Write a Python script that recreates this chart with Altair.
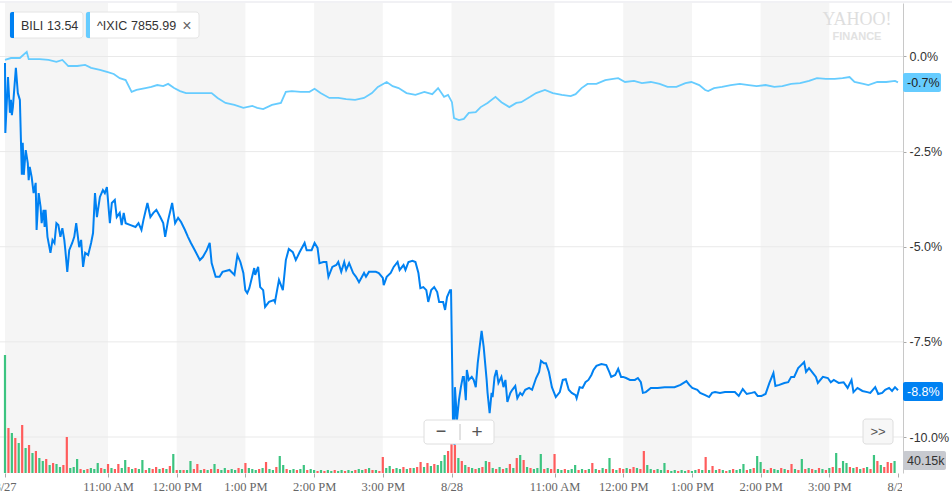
import altair as alt
import pandas as pd

# ---------------- data ----------------
# minutes since 8/27 09:30 (390 trading minutes per day), % change
bili_min = [0, 0.3, 2.6, 4.3, 5.2, 6.0, 6.9, 9.5, 11.2, 13.0,
            14.7, 15.5, 16.4, 18.1, 19.9, 20.7, 21.6, 23.3, 25.0, 26.8,
            27.6, 29.4, 31.1, 32.0, 33.7, 34.6, 35.4, 37.1, 39.7, 41.5,
            43.2, 44.9, 46.6, 48.4, 50.1, 51.8, 52.7, 54.4, 56.1, 58.7,
            60.5, 62.2, 64.8, 66.5, 68.2, 70.0, 72.6, 75.2, 76.9, 78.6,
            80.3, 82.9, 85.5, 87.2, 89.0, 91.6, 93.3, 95.9, 97.6, 100.2,
            101.9, 103.7, 105.4, 109.7, 114.0, 116.6, 119.2, 120.9, 124.4, 127.0,
            129.6, 132.2, 135.6, 138.2, 139.9, 142.5, 146.0, 148.6, 151.2, 153.8,
            157.2, 159.8, 162.4, 165.8, 170.2, 172.8, 176.2, 178.8, 180.5, 184.0,
            187.4, 190.0,
            196.1, 200.4, 203.0, 205.6, 208.2, 209.9, 211.6, 213.4, 217.7, 218.5,
            221.1, 222.9, 225.5, 227.2, 230.6, 235.0, 235.8, 239.3, 242.7, 245.3,
            247.9, 251.4, 254.0, 257.4, 261.7, 263.5, 267.8, 270.4, 273.0, 274.7,
            278.1, 280.7, 282.5, 285.9, 289.4, 291.1, 293.7, 296.3, 298.0, 300.6,
            304.1, 306.6, 309.2, 313.6, 315.3, 317.9, 323.9, 326.5, 330.0, 330.8,
            333.4, 336.9, 339.5, 342.9, 344.7, 348.1, 349.8, 352.4, 355.9, 358.5,
            361.1, 362.8, 365.4, 368.0, 369.7, 372.3, 374.9, 377.5, 379.2, 382.7,
            384.4, 386.1, 388.7, 389.6,
            391.3, 392.2, 392.6, 393.0, 394.8, 396.5, 398.2, 399.9, 400.8, 402.5,
            403.4, 405.1, 407.7, 409.4, 411.2, 412.9, 414.6, 416.3, 418.1, 420.7,
            421.5, 423.3, 425.0, 425.9, 427.6, 429.3, 431.0, 433.6, 435.4, 437.1,
            438.8, 441.4, 443.1, 445.7, 447.5, 450.0, 451.8, 454.4, 457.8, 460.4,
            463.9, 466.5, 468.2, 470.8, 472.5, 475.1, 477.7, 481.1, 484.6, 487.2,
            489.8, 492.4, 495.0, 498.4, 499.3, 501.9, 504.5, 507.0, 509.6, 512.2,
            514.0, 516.6, 520.9, 525.2, 527.8, 529.5, 533.0, 535.6, 538.1, 539.9,
            542.5, 545.9, 550.2, 552.8, 555.4, 557.2, 559.7, 564.1, 570.1, 576.2,
            581.3,
            584.8, 590.0, 595.2, 597.7, 600.3, 604.7, 607.2, 611.6, 615.0, 617.6,
            620.2, 624.5, 628.9, 633.2, 637.5, 640.9, 644.4, 647.9, 652.2, 654.8,
            657.4, 660.8, 664.3, 667.7, 671.2, 672.9, 676.4, 680.7, 684.1, 686.7,
            689.3, 692.8, 695.4, 698.0, 699.7, 702.3, 705.7, 708.3, 710.0, 714.4,
            718.7, 721.3, 723.9, 728.2, 732.5, 736.0, 739.4, 741.1, 744.6, 748.9,
            753.2, 755.8, 760.1, 762.7, 766.2, 768.8, 772.2, 774.8, 777.4, 780.0]

bili_pct = [-0.17, -2.01, -0.54, -1.48, -1.14, -1.54, -1.33, -0.30, -0.96, -1.14,
            -3.11, -2.27, -3.11, -2.46, -2.80, -3.25, -2.90, -3.17, -3.59, -3.32,
            -4.56, -3.59, -3.96, -4.38, -4.03, -4.48, -4.03, -4.74, -5.16, -4.82,
            -4.90, -4.38, -4.43, -4.74, -4.51, -4.82, -5.09, -5.66, -5.09, -4.90,
            -4.74, -4.38, -5.01, -4.82, -5.53, -5.16, -5.22, -4.90, -4.64, -3.59,
            -4.22, -3.69, -3.51, -3.59, -3.43, -4.38, -3.85, -3.77, -4.22, -4.11,
            -4.43, -4.11, -4.38, -4.43, -4.48, -4.38, -4.56, -4.30, -3.85, -4.22,
            -4.11, -4.03, -4.22, -4.38, -4.74, -4.30, -3.85, -4.38, -4.24, -4.35,
            -4.56, -4.74, -4.90, -5.09, -5.35, -5.27, -5.09, -4.90, -5.43, -5.79,
            -5.79, -5.66,
            -5.61, -5.74, -5.22, -5.40, -5.69, -6.14, -6.22, -6.09, -5.56, -5.74,
            -5.53, -6.06, -6.14, -6.58, -6.45, -6.40, -6.45, -5.87, -6.14, -5.35,
            -5.06, -5.14, -5.35, -5.14, -4.90, -5.09, -5.09, -4.90, -5.03, -5.43,
            -5.40, -5.40, -5.79, -5.53, -5.48, -5.40, -5.66, -5.40, -5.61, -5.43,
            -5.69, -5.79, -5.93, -5.69, -5.79, -5.66, -5.66, -5.69, -5.82, -6.01,
            -5.79, -5.69, -5.53, -5.40, -5.61, -5.48, -5.61, -5.40, -5.37, -5.40,
            -5.69, -6.09, -6.06, -6.14, -6.45, -6.14, -6.06, -6.19, -6.45, -6.45,
            -6.66, -6.32, -6.14, -6.14,
            -9.55, -10.08, -10.21, -8.69, -9.55, -9.03, -8.69, -8.42, -8.42, -9.03,
            -8.24, -8.50, -8.42, -8.50, -8.69, -8.06, -7.63, -7.21, -7.63, -8.50,
            -8.84, -9.37, -8.84, -8.95, -8.42, -8.24, -8.58, -8.42, -8.69, -8.50,
            -9.08, -8.84, -8.76, -8.66, -8.98, -8.84, -8.90, -8.76, -8.71, -8.76,
            -8.45, -8.29, -8.00, -8.06, -8.06, -8.29, -8.69, -8.95, -8.82, -8.50,
            -8.48, -8.76, -8.84, -8.90, -8.98, -8.69, -8.71, -8.56, -8.50, -8.37,
            -8.24, -8.13, -8.08, -8.11, -8.29, -8.42, -8.37, -8.21, -8.42, -8.42,
            -8.45, -8.50, -8.50, -8.45, -8.56, -8.84, -8.82, -8.71, -8.71, -8.69,
            -8.69,
            -8.69, -8.63, -8.53, -8.63, -8.71, -8.76, -8.84, -8.90, -8.95, -8.84,
            -8.82, -8.84, -8.82, -8.82, -8.82, -8.92, -8.74, -8.87, -8.84, -8.82,
            -8.92, -8.92, -8.87, -8.58, -8.32, -8.66, -8.63, -8.58, -8.56, -8.42,
            -8.42, -8.19, -8.11, -8.03, -8.29, -8.19, -8.32, -8.42, -8.58, -8.42,
            -8.45, -8.56, -8.50, -8.58, -8.56, -8.71, -8.50, -8.82, -8.71, -8.79,
            -8.82, -8.84, -8.69, -8.87, -8.84, -8.76, -8.71, -8.79, -8.69, -8.77]

ixic_min = [0, 5.2, 13.0, 19.0, 20.7, 30.2, 38.0, 44.9, 50.1, 55.3,
            63.1, 70.0, 75.2, 82.9, 89.8, 95.0, 100.2, 105.4, 110.6, 114.9,
            122.7, 127.8, 133.0, 138.2, 142.5, 147.7, 152.9, 158.1, 165.8, 172.8,
            180.5, 185.7, 192.6, 200.4, 208.2, 216.0, 220.3, 225.5, 233.2, 241.0,
            245.3, 250.5, 258.3, 266.0, 270.4, 275.6, 283.3, 291.1, 298.0, 305.8,
            313.6, 320.5, 325.7, 333.4, 338.6, 343.8, 350.7, 358.5, 366.3, 373.2,
            378.3, 383.5, 387.0, 390.4, 392.2, 396.5, 400.8, 405.1, 411.2, 415.5,
            421.5, 428.4, 433.6, 440.5, 446.6, 450.9, 458.7, 463.9, 471.6, 478.5,
            486.3, 494.1, 498.4, 503.6, 508.8, 516.6, 524.3, 531.2, 535.6, 541.6,
            549.4, 556.3, 564.1, 571.8, 578.7, 586.5, 594.3, 599.5, 606.4, 611.6,
            614.2, 619.3, 626.3, 634.0, 641.8, 649.6, 656.5, 664.3, 672.0, 679.0,
            686.7, 694.5, 702.3, 709.2, 717.0, 724.7, 731.6, 737.7, 742.0, 749.8,
            754.1, 761.9, 769.7, 777.4, 780.0]

ixic_pct = [-0.09, -0.04, -0.04, 0.12, -0.07, -0.07, -0.09, -0.14, -0.09, -0.25,
            -0.25, -0.22, -0.30, -0.35, -0.41, -0.46, -0.57, -0.62, -0.93, -0.88,
            -0.83, -0.80, -0.75, -0.78, -0.72, -0.83, -0.91, -0.96, -0.96, -0.96,
            -0.96, -1.09, -1.22, -1.27, -1.35, -1.30, -1.35, -1.38, -1.27, -1.22,
            -0.93, -0.91, -0.93, -0.93, -0.85, -0.96, -1.09, -1.09, -1.12, -1.14,
            -1.09, -0.96, -0.80, -0.67, -0.78, -0.83, -0.96, -1.01, -0.93, -0.99,
            -0.83, -1.06, -1.01, -1.20, -1.62, -1.67, -1.64, -1.48, -1.46, -1.33,
            -1.22, -1.06, -1.20, -1.33, -1.22, -1.20, -1.06, -0.96, -0.88, -0.96,
            -1.01, -1.04, -0.99, -0.83, -0.72, -0.72, -0.62, -0.59, -0.57, -0.67,
            -0.64, -0.70, -0.67, -0.72, -0.80, -0.80, -0.70, -0.67, -0.75, -0.88,
            -0.91, -0.83, -0.80, -0.75, -0.72, -0.75, -0.78, -0.75, -0.80, -0.78,
            -0.72, -0.70, -0.64, -0.57, -0.59, -0.59, -0.57, -0.54, -0.67, -0.72,
            -0.75, -0.67, -0.67, -0.64, -0.68]

# volume (thousands of shares), one bar per 3 minutes
vol_min = list(range(0, 780, 3))
vol_k = [354, 135, 120, 105, 90, 144, 75, 84, 60, 66, 45, 36, 42, 24, 30, 27, 18, 24, 108, 15,
         18, 42, 12, 9, 12, 15, 12, 30, 15, 12, 27, 15, 12, 27, 15, 39, 18, 12, 15, 12,
         39, 9, 15, 12, 18, 12, 15, 12, 21, 57, 9, 9, 9, 9, 36, 12, 27, 9, 12, 9,
         12, 27, 12, 9, 15, 9, 12, 9, 15, 12, 30, 15, 12, 9, 12, 15, 33, 12, 9, 18,
         51, 24, 12, 9, 12, 9, 12, 24, 9, 12, 9, 6, 9, 6, 9, 6, 9, 6, 9, 6,
         9, 6, 9, 12, 9, 12, 15, 9, 9, 6, 48, 15, 21, 12, 15, 12, 18, 12, 15, 15,
         18, 33, 18, 30, 21, 27, 24, 36, 54, 66,
         120, 84, 45, 36, 24, 18, 15, 12, 15, 18, 36, 33, 15, 12, 18, 12, 15, 27, 15, 45,
         54, 39, 18, 15, 12, 15, 57, 12, 15, 12, 57, 12, 9, 12, 9, 12, 24, 9, 12, 9,
         12, 30, 12, 9, 15, 12, 45, 12, 9, 15, 12, 15, 12, 18, 15, 12, 66, 24, 12, 9,
         12, 9, 30, 9, 6, 9, 6, 9, 6, 9, 6, 9, 12, 9, 48, 9, 21, 9, 12, 9,
         6, 9, 12, 9, 12, 27, 9, 12, 15, 51, 33, 12, 9, 15, 12, 9, 15, 12, 9, 27,
         12, 9, 42, 12, 15, 12, 9, 15, 12, 9, 15, 18, 60, 15, 36, 30, 18, 15, 18, 12,
         15, 18, 12, 54, 36, 24, 18, 33, 30, 36]
vol_dir = ("g r g r g r g r g r  g g r g r g g r r g  g g r g r g g g r g  "
           "r g r r g g r g r g  g r g r r g r g r g  r g r g g r r g r g  "
           "r g r g g r g g r g  r g g g r g r g g r  g g r g g r g g r g  "
           "g r g r g g r g g r  g g r g g r g r g r  r g g r g g r g r g  "
           "r r g r g r g g g r  "
           "r r g r g r g r g r  g r g r g r g r g r  g r g r g g g r g r  "
           "r g g r g g g r g r  g r g r g r g r g r  r g r r g r r g g r  "
           "g g g r g g r g g r  g g r g r g r g r g  r g r g g g r g r g  "
           "g r g r g g r g r r  g r g r g r g r g r  g r g r g g r g r g  "
           "r g r g r g r r r g").split()

band_start = [0, 150, 270, 390, 540, 660]
band_end = [90, 210, 330, 480, 600, 720]

y_ticks = [0, -2.5, -5, -7.5, -10]
y_tick_labels = ["0.0%", "-2.5%", "-5.0%", "-7.5%", "-10.0%"]
x_ticks = [0, 90, 150, 210, 270, 330, 390, 480, 540, 600, 660, 720, 780]
x_tick_labels = ["8/27", "11:00 AM", "12:00 PM", "1:00 PM", "2:00 PM", "3:00 PM", "8/28",
                 "11:00 AM", "12:00 PM", "1:00 PM", "2:00 PM", "3:00 PM", "8/29"]

# ---------------- layout ----------------
W, H, PT = 903, 470, 3
X_DOM = [0, 780]
Y_DOM = [-10.946, 1.406]
BLUE = "#0081f2"
LBLUE = "#66ccff"


def case_expr(vals, labels):
    e = "''"
    for v, l in reversed(list(zip(vals, labels))):
        e = f"(datum.value == {v}) ? '{l}' : ({e})"
    return e


xs = alt.Scale(domain=X_DOM, nice=False, zero=False)
ys = alt.Scale(domain=Y_DOM, nice=False, zero=False)

x_axis = alt.Axis(
    orient="bottom", values=x_ticks, labelExpr=case_expr(x_ticks, x_tick_labels),
    title=None, grid=False, domain=False, ticks=True, tickSize=4, tickColor="#aaaaaa",
    labelFont="Liberation Serif", labelFontSize=12.5, labelColor="#666666",
    labelPadding=3, labelFlush=False, labelOverlap=False)

band_df = pd.DataFrame({"s": band_start, "e": band_end})
grid_df = pd.DataFrame({"g": y_ticks})
bili_df = pd.DataFrame({"m": bili_min, "v": bili_pct})
ixic_df = pd.DataFrame({"m": ixic_min, "v": ixic_pct})
vol_df = pd.DataFrame({"m": vol_min, "k": vol_k, "d": vol_dir})

bands = alt.Chart(band_df).mark_rect(fill="#f5f5f5").encode(
    x=alt.X("s:Q", scale=xs, axis=x_axis),
    x2="e:Q",
    y=alt.value(0), y2=alt.value(H),
)

grid = alt.Chart(grid_df).mark_rule(color="#e9e9e9", strokeWidth=1).encode(
    y=alt.Y("g:Q", scale=ys, axis=alt.Axis(
        orient="right", values=y_ticks, labelExpr=case_expr(y_ticks, y_tick_labels),
        title=None, grid=False, domain=True, domainColor="#c8c8c8", ticks=True,
        tickColor="#aaaaaa", tickSize=3, labelPadding=3, labelFont="Liberation Sans",
        labelFontSize=12.5, labelColor="#333333")),
)

vol = alt.Chart(vol_df).mark_bar(size=2.2).encode(
    x=alt.X("m:Q", scale=xs, axis=None),
    y=alt.Y("k:Q", scale=alt.Scale(domain=[0, 1410], nice=False), axis=None),
    color=alt.Color("d:N", scale=alt.Scale(domain=["g", "r"], range=["#3cc480", "#ff5c5c"]), legend=None),
)

ixic_line = alt.Chart(ixic_df).mark_line(color=LBLUE, strokeWidth=1.8).encode(
    x=alt.X("m:Q", scale=xs, axis=None),
    y=alt.Y("v:Q", scale=ys, axis=None),
)
bili_line = alt.Chart(bili_df).mark_line(color=BLUE, strokeWidth=2).encode(
    x=alt.X("m:Q", scale=xs, axis=None),
    y=alt.Y("v:Q", scale=ys, axis=None),
)

one = pd.DataFrame({"k": [0]})


def rect(x1, y1, x2, y2, fill, stroke=None, r=0, **kw):
    props = dict(fill=fill, cornerRadius=r)
    if stroke:
        props.update(stroke=stroke, strokeWidth=1)
    props.update(kw)
    return alt.Chart(one).mark_rect(**props).encode(
        x=alt.value(x1), x2=alt.value(x2), y=alt.value(y1 - PT), y2=alt.value(y2 - PT))


def text(s, x, y, size=12.5, color="#333333", font="Liberation Sans", align="left", weight="normal"):
    return alt.Chart(one).mark_text(text=s, fontSize=size, color=color, font=font, align=align,
                                    baseline="middle", fontWeight=weight).encode(
        x=alt.value(x), y=alt.value(y - PT))


annotations = [
    # top border
    alt.Chart(one).mark_rule(color="#e3e3ea", strokeWidth=1).encode(
        x=alt.value(0), x2=alt.value(952), y=alt.value(2 - PT)),
    # legend chips
    rect(10, 12, 83, 38, "white", stroke="#e4e4e4", r=3),
    rect(10, 12, 14, 38, BLUE, cornerRadiusTopLeft=3, cornerRadiusBottomLeft=3),
    text("BILI", 21, 25.5),
    text("13.54", 47, 25.5),
    rect(86, 12, 199, 38, "white", stroke="#e4e4e4", r=3),
    rect(86, 12, 90, 38, LBLUE, cornerRadiusTopLeft=3, cornerRadiusBottomLeft=3),
    text("^IXIC", 97, 25.5),
    text("7855.99", 131, 25.5),
    text("×", 187, 25.5, size=16, color="#666666", align="center"),
    # watermark
    text("YAHOO!", 857, 19.5, size=18, color="#dedede", font="Liberation Serif", align="center"),
    text("FINANCE", 857, 36.5, size=11, color="#e2e2e2", align="center", weight="bold"),
    # last-value labels
    rect(903, 73, 941, 92, LBLUE, r=2),
    text("-0.7%", 907, 82.5, color="#222222"),
    rect(903, 382, 943, 401, BLUE, r=2),
    text("-8.8%", 907, 391.5, color="white"),
    rect(902, 474, 952, 499, "white"),
    rect(903, 451, 946, 470, "#c8cad0", r=2),
    text("40.15k", 907, 460.5, color="#333333"),
    # zoom control
    rect(424, 420, 494, 444, "white", stroke="#dedede", r=3),
    text("−", 441, 431.5, size=18, color="#555555", align="center"),
    alt.Chart(one).mark_rule(color="#c4c4c4", strokeWidth=1).encode(
        x=alt.value(460), y=alt.value(424 - PT), y2=alt.value(440 - PT)),
    text("+", 477, 431.5, size=19, color="#555555", align="center"),
    rect(863, 419, 893, 444, "#f7f7f7", stroke="#dedede", r=3),
    text(">>", 878, 431.5, size=13, color="#555555", align="center"),
]

chart = alt.layer(bands, grid, vol, ixic_line, bili_line, *annotations).resolve_scale(
    y="independent"
).resolve_axis(
    x="independent"
).properties(
    width=W, height=H,
    padding={"left": 0, "right": 49, "top": PT, "bottom": 26},
    autosize=alt.AutoSizeParams(type="none"),
).configure_view(strokeWidth=0)

chart.save("out.html", embed_options={"renderer": "svg", "actions": False})
